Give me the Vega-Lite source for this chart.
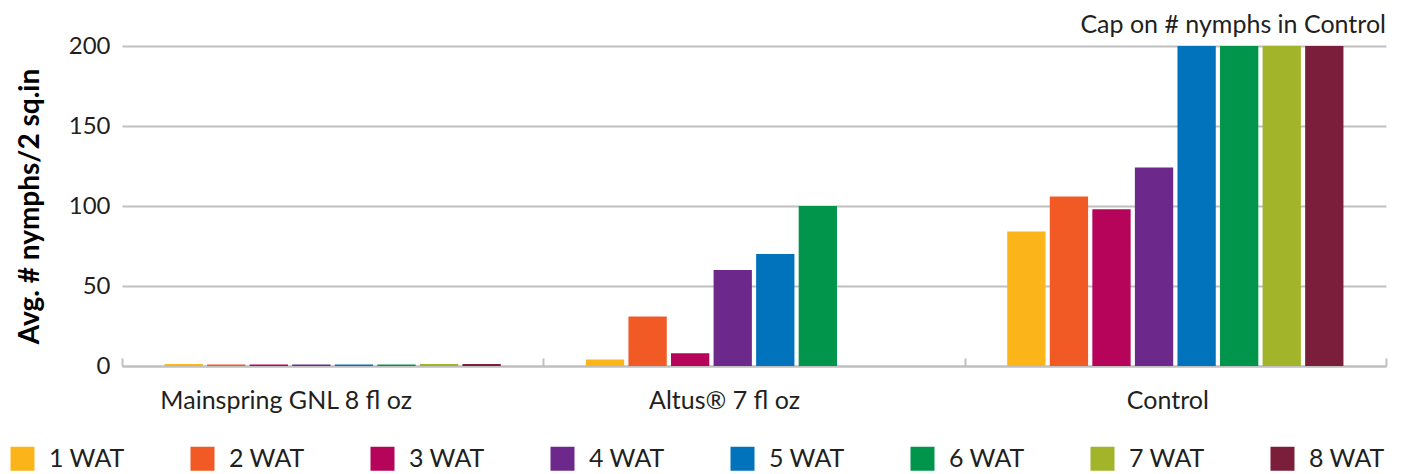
{
  "$schema": "https://vega.github.io/schema/vega-lite/v6.json",
  "autosize": {"type": "none"},
  "width": 1264,
  "height": 320,
  "padding": {"left": 122, "top": 46, "right": 16, "bottom": 108},
  "background": "white",
  "config": {
    "font": "Lato",
    "view": {"stroke": null}
  },
  "title": {
    "text": "Cap on # nymphs in Control",
    "anchor": "end",
    "frame": "group",
    "fontSize": 25,
    "fontWeight": "normal",
    "color": "#231f20",
    "offset": -4
  },
  "data": {
    "values": [
      {"product": "Mainspring GNL 8 fl oz", "wat": "1 WAT", "nymphs": 1.2},
      {"product": "Mainspring GNL 8 fl oz", "wat": "2 WAT", "nymphs": 0.9},
      {"product": "Mainspring GNL 8 fl oz", "wat": "3 WAT", "nymphs": 0.9},
      {"product": "Mainspring GNL 8 fl oz", "wat": "4 WAT", "nymphs": 0.9},
      {"product": "Mainspring GNL 8 fl oz", "wat": "5 WAT", "nymphs": 0.9},
      {"product": "Mainspring GNL 8 fl oz", "wat": "6 WAT", "nymphs": 0.9},
      {"product": "Mainspring GNL 8 fl oz", "wat": "7 WAT", "nymphs": 1.2},
      {"product": "Mainspring GNL 8 fl oz", "wat": "8 WAT", "nymphs": 1.2},
      {"product": "Altus® 7 fl oz", "wat": "1 WAT", "nymphs": 4},
      {"product": "Altus® 7 fl oz", "wat": "2 WAT", "nymphs": 31},
      {"product": "Altus® 7 fl oz", "wat": "3 WAT", "nymphs": 8},
      {"product": "Altus® 7 fl oz", "wat": "4 WAT", "nymphs": 60},
      {"product": "Altus® 7 fl oz", "wat": "5 WAT", "nymphs": 70},
      {"product": "Altus® 7 fl oz", "wat": "6 WAT", "nymphs": 100},
      {"product": "Control", "wat": "1 WAT", "nymphs": 84},
      {"product": "Control", "wat": "2 WAT", "nymphs": 106},
      {"product": "Control", "wat": "3 WAT", "nymphs": 98},
      {"product": "Control", "wat": "4 WAT", "nymphs": 124},
      {"product": "Control", "wat": "5 WAT", "nymphs": 200},
      {"product": "Control", "wat": "6 WAT", "nymphs": 200},
      {"product": "Control", "wat": "7 WAT", "nymphs": 200},
      {"product": "Control", "wat": "8 WAT", "nymphs": 200}
    ]
  },
  "mark": {"type": "bar"},
  "encoding": {
    "x": {
      "field": "product",
      "type": "nominal",
      "sort": ["Mainspring GNL 8 fl oz", "Altus® 7 fl oz", "Control"],
      "scale": {"paddingInner": 0, "paddingOuter": 0},
      "axis": {
        "title": null,
        "labelAngle": 0,
        "labelFontSize": 25,
        "labelColor": "#231f20",
        "labelPadding": 30,
        "labelLimit": 400,
        "tickBand": "extent",
        "tickSize": -8,
        "tickColor": "#c0c0c0",
        "tickWidth": 2,
        "domainColor": "#c0c0c0",
        "domainWidth": 2,
        "grid": false,
        "labelOffset": {
          "condition": [
            {"test": "datum.value == 'Control'", "value": -8},
            {"test": "datum.value == 'Mainspring GNL 8 fl oz'", "value": -47}
          ],
          "value": -30
        }
      }
    },
    "xOffset": {
      "field": "wat",
      "type": "nominal",
      "sort": ["1 WAT", "2 WAT", "3 WAT", "4 WAT", "5 WAT", "6 WAT", "7 WAT", "8 WAT"],
      "scale": {"paddingInner": 0.1, "paddingOuter": 1.06}
    },
    "y": {
      "field": "nymphs",
      "type": "quantitative",
      "scale": {"domain": [0, 200]},
      "axis": {
        "title": "Avg. # nymphs/2 sq.in",
        "titleFontSize": 28,
        "titleFontWeight": "bold",
        "titleColor": "#000000",
        "titlePadding": 24,
        "values": [0, 50, 100, 150, 200],
        "labelFontSize": 24,
        "labelColor": "#231f20",
        "labelPadding": 12,
        "domain": false,
        "ticks": false,
        "gridColor": "#c0c0c0",
        "gridWidth": 2
      }
    },
    "color": {
      "field": "wat",
      "type": "nominal",
      "sort": ["1 WAT", "2 WAT", "3 WAT", "4 WAT", "5 WAT", "6 WAT", "7 WAT", "8 WAT"],
      "scale": {
        "domain": ["1 WAT", "2 WAT", "3 WAT", "4 WAT", "5 WAT", "6 WAT", "7 WAT", "8 WAT"],
        "range": ["#FBB41A", "#F15A24", "#B5045A", "#6C288A", "#0073BC", "#00954A", "#A2B52A", "#7A1E3B"]
      },
      "legend": {
        "title": null,
        "orient": "none",
        "legendX": -112,
        "legendY": 400,
        "direction": "horizontal",
        "columns": 8,
        "symbolType": "square",
        "symbolSize": 576,
        "symbolStrokeWidth": 0,
        "labelFontSize": 25,
        "labelColor": "#231f20",
        "labelOffset": 14,
        "columnPadding": 65,
        "gridAlign": "all"
      }
    }
  }
}
